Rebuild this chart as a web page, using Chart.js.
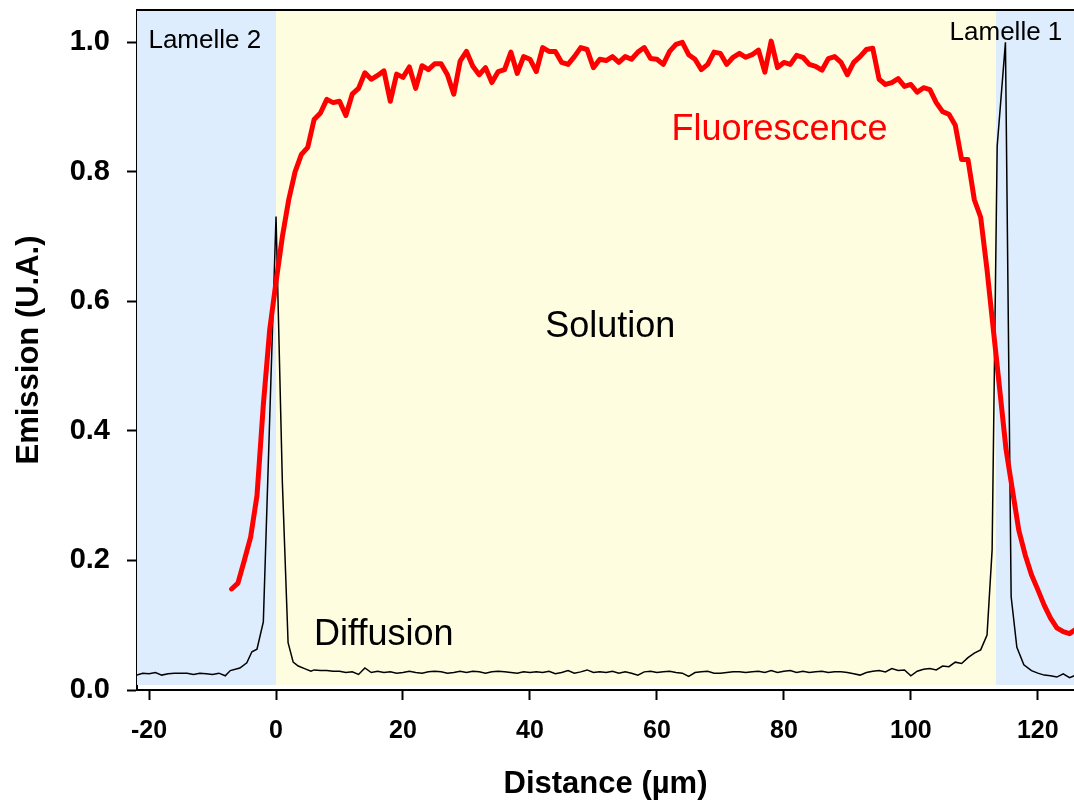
<!DOCTYPE html>
<html>
<head>
<meta charset="utf-8">
<script src="https://cdn.jsdelivr.net/npm/chart.js@4/dist/chart.umd.min.js"></script>
<style>
  html, body { margin: 0; padding: 0; background: #fff; }
  #profil { display: block; }
</style>
</head>
<body>
<canvas id="profil" width="1074" height="802"></canvas>
<script>
// fluorescence (trait rouge)
const fluoDist = [
  -7, -6, -5, -4, -3, -2, -1, 0, 1, 2, 3, 4, 5, 6, 7, 8, 9, 10, 11, 12, 13, 14, 15, 16, 17, 18, 19,
  20, 21, 22, 23, 24, 25, 26, 27, 28, 29, 30, 31, 32, 33, 34, 35, 36, 37, 38, 39, 40, 41, 42, 43,
  44, 45, 46, 47, 48, 49, 50, 51, 52, 53, 54, 55, 56, 57, 58, 59, 60, 61, 62, 63, 64, 65, 66, 67,
  68, 69, 70, 71, 72, 73, 74, 75, 76, 77, 78, 79, 80, 81, 82, 83, 84, 85, 86, 87, 88, 89, 90, 91,
  92, 93, 94, 95, 96, 97, 98, 99, 100, 101, 102, 103, 104, 105, 106, 107, 108, 109, 110, 111, 112,
  113, 114, 115, 116, 117, 118, 119, 120, 121, 122, 123, 124, 125, 126
];
const fluoValues = [
  0.156, 0.165, 0.200, 0.236, 0.300, 0.440, 0.556, 0.630, 0.700, 0.757, 0.800, 0.827, 0.838, 0.881,
  0.891, 0.912, 0.907, 0.909, 0.887, 0.920, 0.929, 0.953, 0.943, 0.949, 0.956, 0.909, 0.951, 0.946,
  0.962, 0.929, 0.964, 0.958, 0.967, 0.967, 0.950, 0.920, 0.971, 0.986, 0.963, 0.950, 0.961, 0.938,
  0.955, 0.958, 0.985, 0.952, 0.978, 0.974, 0.955, 0.992, 0.986, 0.986, 0.969, 0.966, 0.978, 0.992,
  0.989, 0.961, 0.974, 0.972, 0.978, 0.969, 0.978, 0.974, 0.985, 0.992, 0.975, 0.974, 0.966, 0.986,
  0.997, 1.000, 0.981, 0.974, 0.958, 0.966, 0.985, 0.983, 0.966, 0.977, 0.983, 0.977, 0.981, 0.988,
  0.954, 1.002, 0.961, 0.969, 0.966, 0.980, 0.977, 0.966, 0.963, 0.957, 0.975, 0.978, 0.969, 0.950,
  0.969, 0.978, 0.989, 0.991, 0.943, 0.935, 0.938, 0.944, 0.932, 0.935, 0.923, 0.930, 0.927, 0.907,
  0.893, 0.889, 0.872, 0.819, 0.819, 0.757, 0.730, 0.649, 0.556, 0.464, 0.371, 0.309, 0.247, 0.209,
  0.178, 0.155, 0.131, 0.111, 0.096, 0.090, 0.087, 0.094
];

// diffusion (trait noir fin)
const diffDist = [
  -22, -21, -20, -19, -18, -17, -16, -15, -14, -13, -12, -11, -10, -9, -8, -7.2, -5.7, -4.6, -3.8,
  -3, -2, 0, 1, 1.9, 2.7, 3.5, 4.5, 5.5,
  6, 7, 8, 9, 10, 11, 12, 13, 14, 15, 16, 17, 18, 19, 20, 21, 22, 23, 24, 25, 26, 27, 28, 29, 30,
  31, 32, 33, 34, 35, 36, 37, 38, 39, 40, 41, 42, 43, 44, 45, 46, 47, 48, 49, 50, 51, 52, 53, 54,
  55, 56, 57, 58, 59, 60, 61, 62, 63, 64, 65, 66, 67, 68, 69, 70, 71, 72, 73, 74, 75, 76, 77, 78,
  79, 80, 81, 82, 83, 84, 85, 86, 87, 88, 89, 90, 91, 92, 93, 94, 95, 96, 97, 98, 99, 100, 101,
  102, 103, 104, 105, 106, 107, 108, 109, 110, 111, 112, 112.8, 113.6, 114.9, 115.8, 116.7, 117.8,
  119, 120, 121, 122, 123, 124, 125, 126
];
const diffValues = [
  0.023, 0.026, 0.025, 0.027, 0.023, 0.025, 0.026, 0.026, 0.026, 0.024, 0.026, 0.025, 0.024, 0.026,
  0.022, 0.030, 0.034, 0.042, 0.059, 0.063, 0.105, 0.731, 0.320, 0.073, 0.043, 0.037, 0.033, 0.029,
  0.031, 0.030, 0.030, 0.029, 0.029, 0.027, 0.028, 0.024, 0.034, 0.027, 0.029, 0.027, 0.028, 0.026,
  0.027, 0.029, 0.027, 0.026, 0.028, 0.029, 0.028, 0.026, 0.027, 0.029, 0.027, 0.029, 0.028, 0.026,
  0.028, 0.029, 0.028, 0.027, 0.026, 0.028, 0.027, 0.028, 0.027, 0.029, 0.025, 0.027, 0.030, 0.026,
  0.028, 0.031, 0.027, 0.028, 0.027, 0.029, 0.026, 0.028, 0.026, 0.023, 0.028, 0.029, 0.027, 0.028,
  0.029, 0.027, 0.026, 0.021, 0.027, 0.028, 0.029, 0.026, 0.026, 0.027, 0.028, 0.028, 0.027, 0.028,
  0.029, 0.027, 0.030, 0.027, 0.029, 0.030, 0.027, 0.029, 0.027, 0.028, 0.029, 0.027, 0.028, 0.028,
  0.027, 0.025, 0.023, 0.027, 0.029, 0.030, 0.028, 0.033, 0.030, 0.031, 0.022, 0.029, 0.032, 0.033,
  0.031, 0.037, 0.036, 0.043, 0.041, 0.050, 0.057, 0.062, 0.085, 0.216, 0.840, 1.000, 0.144, 0.066,
  0.039, 0.030, 0.026, 0.023, 0.022, 0.020, 0.025, 0.019, 0.023
];

// zones : lamelle 2 / solution / lamelle 1
const zoneBounds = [-22, 0, 113.4, 126];
const zoneColors = ["#ddedfd", "#fffde0", "#ddedfd"];

// textes posés sur le graphique
const notes = [
  { text: "Lamelle 2", x: -20.1, y: 0.992, size: 26, color: "#000" },
  { text: "Lamelle 1", x: 106.1, y: 1.003, size: 26, color: "#000" },
  { text: "Fluorescence", x: 62.3, y: 0.849, size: 36, color: "#ff0000" },
  { text: "Solution", x: 42.4, y: 0.5456, size: 36, color: "#000" },
  { text: "Diffusion", x: 6.0, y: 0.0696, size: 36, color: "#000" },
];

const FONT = '"Liberation Sans", Arial, Helvetica, sans-serif';

const toPoints = (xs, ys) => xs.map((x, i) => ({ x, y: ys[i] }));

// fond coloré des zones + bordure du haut
const zonesPlugin = {
  id: "zones",
  beforeDatasetsDraw(chart) {
    const { ctx, chartArea, scales } = chart;
    ctx.save();
    for (let i = 0; i < zoneColors.length; i++) {
      const x1 = Math.max(scales.x.getPixelForValue(zoneBounds[i]), chartArea.left);
      const x2 = Math.min(scales.x.getPixelForValue(zoneBounds[i + 1]), chartArea.right);
      ctx.fillStyle = zoneColors[i];
      ctx.fillRect(x1, chartArea.top, x2 - x1, chartArea.bottom - chartArea.top - 5);
    }
    // textes
    for (const n of notes) {
      ctx.font = `${n.size}px ${FONT}`;
      ctx.fillStyle = n.color;
      ctx.textBaseline = "alphabetic";
      ctx.textAlign = "left";
      ctx.fillText(n.text, scales.x.getPixelForValue(n.x), scales.y.getPixelForValue(n.y));
    }
    ctx.restore();
  },
  afterDraw(chart) {
    const { ctx, chartArea } = chart;
    ctx.save();
    ctx.strokeStyle = "#000";
    ctx.lineWidth = 2;
    ctx.beginPath();
    ctx.moveTo(chartArea.left, chartArea.top);
    ctx.lineTo(chartArea.right, chartArea.top);
    ctx.stroke();
    ctx.restore();
  },
};

new Chart(document.getElementById("profil"), {
  type: "line",
  data: {
    datasets: [
      {
        label: "Fluorescence",
        data: toPoints(fluoDist, fluoValues),
        borderColor: "#ff0000",
        borderWidth: 5,
        borderJoinStyle: "round",
        borderCapStyle: "round",
        pointRadius: 0,
        tension: 0,
      },
      {
        label: "Diffusion",
        data: toPoints(diffDist, diffValues),
        borderColor: "#000000",
        borderWidth: 1.5,
        pointRadius: 0,
        tension: 0,
      },
    ],
  },
  options: {
    responsive: false,
    animation: false,
    devicePixelRatio: 1,
    layout: { padding: { top: 10, right: 0, bottom: 0, left: 0 } },
    plugins: {
      legend: { display: false },
      tooltip: { enabled: false },
    },
    scales: {
      x: {
        type: "linear",
        min: -21.9,
        max: 125.7,
        afterFit: (s) => { s.height = 112; s.paddingLeft = 0; s.paddingRight = 0; },
        grid: { drawOnChartArea: false, tickLength: 10, tickWidth: 2, tickColor: "#000" },
        border: { display: true, color: "#000", width: 2 },
        ticks: {
          stepSize: 20,
          includeBounds: false,
          color: "#000",
          padding: 16,
          maxRotation: 0,
          font: { family: FONT, size: 25, weight: "bold" },
          callback: (v) => String(v),
        },
        title: {
          display: true,
          text: "Distance (µm)",
          color: "#000",
          font: { family: FONT, size: 31, weight: "bold", lineHeight: 1 },
          padding: { top: 0, bottom: 2 },
        },
      },
      y: {
        min: 0,
        max: 1.05,
        afterFit: (s) => { s.width = 137; s.paddingTop = 0; s.paddingBottom = 0; },
        grid: { drawOnChartArea: false, tickLength: 10, tickWidth: 2, tickColor: "#000" },
        border: { display: true, color: "#000", width: 2 },
        ticks: {
          stepSize: 0.2,
          includeBounds: false,
          color: "#000",
          padding: 17,
          font: { family: FONT, size: 29, weight: "bold" },
          callback: (v) => v.toFixed(1),
        },
        title: {
          display: true,
          text: "Emission (U.A.)",
          color: "#000",
          font: { family: FONT, size: 31, weight: "bold", lineHeight: 1 },
          padding: { top: 14, bottom: 0 },
        },
      },
    },
  },
  plugins: [zonesPlugin],
});
</script>
</body>
</html>
